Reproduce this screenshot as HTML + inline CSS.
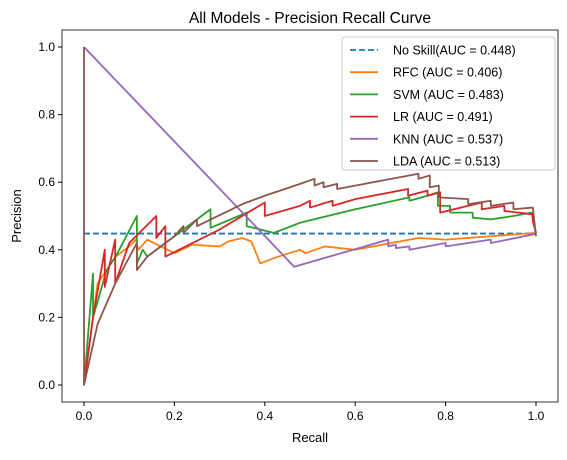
<!DOCTYPE html>
<html><head><meta charset="utf-8"><style>
body{margin:0;background:#fff;width:567px;height:455px;overflow:hidden}
svg text{font-family:"Liberation Sans","DejaVu Sans",sans-serif}
</style></head><body>
<svg id="c" width="567" height="455"></svg>
<script>
const seriesNames=["RFC (AUC = 0.406)","SVM (AUC = 0.483)","LR (AUC = 0.491)","KNN (AUC = 0.537)","LDA (AUC = 0.513)"];
const seriesColors=["#ff7f0e","#2ca02c","#d62728","#9467bd","#8c564b"];
const noSkill=0.448;
const rfcPts=[[0,0],[0.03,0.3],[0.07,0.38],[0.1,0.41],[0.115,0.43],[0.12,0.40],[0.14,0.43],[0.2,0.39],[0.24,0.415],[0.3,0.41],[0.32,0.425],[0.35,0.435],[0.37,0.425],[0.39,0.36],[0.43,0.38],[0.478,0.40],[0.49,0.39],[0.533,0.41],[0.6,0.40],[0.68,0.42],[0.74,0.435],[0.8,0.43],[0.9,0.44],[1.0,0.45]];
const svmPts=[[0,0],[0.02,0.33],[0.02,0.2],[0.05,0.34],[0.07,0.38],[0.117,0.50],[0.117,0.36],[0.13,0.40],[0.14,0.38],[0.2,0.44],[0.28,0.52],[0.28,0.465],[0.36,0.51],[0.36,0.47],[0.42,0.45],[0.478,0.48],[0.6,0.52],[0.72,0.555],[0.72,0.545],[0.76,0.56],[0.783,0.57],[0.783,0.53],[0.81,0.53],[0.81,0.51],[0.86,0.51],[0.86,0.495],[0.9,0.49],[0.95,0.5],[0.99,0.51],[1.0,0.45]];
const lrPts=[[0,0],[0.02,0.2],[0.046,0.40],[0.046,0.29],[0.069,0.43],[0.069,0.30],[0.1,0.42],[0.16,0.50],[0.16,0.435],[0.18,0.47],[0.18,0.38],[0.3,0.46],[0.4,0.54],[0.4,0.50],[0.478,0.53],[0.5,0.545],[0.5,0.525],[0.55,0.545],[0.55,0.53],[0.6,0.55],[0.717,0.58],[0.717,0.56],[0.76,0.575],[0.76,0.56],[0.788,0.57],[0.788,0.51],[0.88,0.54],[0.88,0.52],[0.93,0.53],[0.93,0.515],[0.993,0.505],[0.993,0.485],[1.0,0.45]];
const knnPts=[[0,1],[0.465,0.35],[0.673,0.43],[0.673,0.41],[0.69,0.415],[0.69,0.405],[0.72,0.41],[0.72,0.40],[0.8,0.42],[0.8,0.41],[0.9,0.43],[0.9,0.42],[1.0,0.447]];
const ldaPts=[[0,1],[0,0],[0.03,0.18],[0.069,0.30],[0.117,0.42],[0.117,0.34],[0.14,0.38],[0.2,0.44],[0.22,0.47],[0.22,0.45],[0.25,0.49],[0.25,0.47],[0.35,0.535],[0.4,0.56],[0.478,0.595],[0.51,0.61],[0.51,0.59],[0.53,0.60],[0.53,0.585],[0.56,0.595],[0.56,0.58],[0.6,0.59],[0.74,0.625],[0.74,0.61],[0.765,0.62],[0.765,0.585],[0.785,0.59],[0.785,0.555],[0.85,0.55],[0.85,0.535],[0.9,0.545],[0.9,0.53],[0.95,0.54],[0.95,0.52],[0.993,0.525],[1.0,0.44]];
const allPts=[rfcPts,svmPts,lrPts,knnPts,ldaPts];
const xTicks=[0,0.2,0.4,0.6,0.8,1.0];
const yTicks=[0,0.2,0.4,0.6,0.8,1.0];
const L=62,R=558,T=30,B=402;
function sx(v){return 84+v*452;}
function sy(v){return 385-v*338;}
const svg=document.getElementById('c');const NS='http://www.w3.org/2000/svg';
function mk(t,a,p){const e=document.createElementNS(NS,t);for(const k in a)e.setAttribute(k,a[k]);(p||svg).appendChild(e);return e;}
let t=mk('text',{x:310,y:23,'text-anchor':'middle','font-size':15.5,fill:'#000'});t.textContent='All Models - Precision Recall Curve';


xTicks.forEach(v=>{const g=mk('g',{});


mk('line',{x1:sx(v),x2:sx(v),y1:B,y2:B+4,stroke:'#000'},g);
const tx=mk('text',{x:sx(v),y:B+18,'text-anchor':'middle','font-size':12},g);tx.textContent=v.toFixed(1);});
yTicks.forEach(v=>{const g=mk('g',{});


mk('line',{x1:L-4,x2:L,y1:sy(v),y2:sy(v),stroke:'#000'},g);
const tx=mk('text',{x:L-7,y:sy(v)+4,'text-anchor':'end','font-size':12},g);tx.textContent=v.toFixed(1);});
t=mk('text',{x:310,y:442,'text-anchor':'middle','font-size':13});t.textContent='Recall';


t=mk('text',{x:21,y:216,'text-anchor':'middle','font-size':13,transform:'rotate(-90 21 216)'});t.textContent='Precision';


let ns=mk('line',{x1:sx(0),x2:sx(1),y1:sy(noSkill),y2:sy(noSkill),stroke:'#1f77b4','stroke-width':1.8,'stroke-dasharray':'6,3'});


allPts.forEach((pts,i)=>{const p=mk('polyline',{points:pts.map(q=>sx(q[0])+','+sy(q[1])).join(' '),fill:'none',stroke:seriesColors[i],'stroke-width':1.8,'stroke-linejoin':'round'});

});
mk('rect',{x:L,y:T,width:R-L,height:B-T,fill:'none',stroke:'#000','stroke-width':0.8});
const lg=mk('g',{});


mk('rect',{x:342,y:37,width:213,height:133,rx:3,fill:'#fff','fill-opacity':0.8,stroke:'#ccc'},lg);
const labels=["No Skill(AUC = 0.448)"].concat(seriesNames);const cols=["#1f77b4"].concat(seriesColors);
labels.forEach((s,i)=>{const y=50+i*22.2;const g=mk('g',{},lg);


const a={x1:350,x2:378,y1:y,y2:y,stroke:cols[i],'stroke-width':1.8};if(i==0)a['stroke-dasharray']='6,3';mk('line',a,g);
const tx=mk('text',{x:393,y:y+4.5,'font-size':12.5},g);tx.textContent=s;});
</script>
</body></html>
